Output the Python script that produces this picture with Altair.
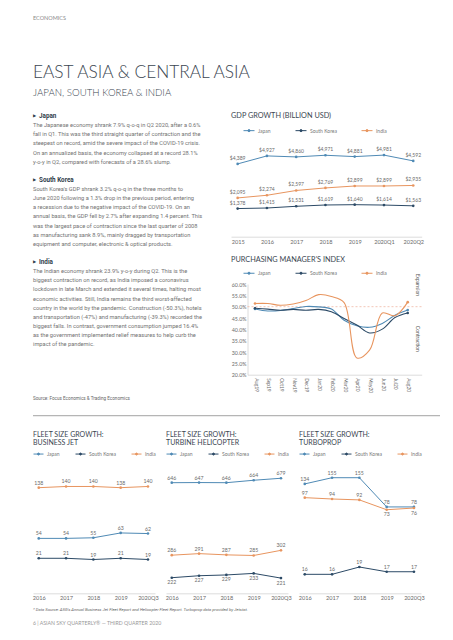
import altair as alt
import pandas as pd

# ---------------- data ----------------
series_names = ["Japan", "South Korea", "India"]
series_colors = ["#4f8ab5", "#2c4a66", "#e8955f"]

gdp_periods = ["2015", "2016", "2017", "2018", "2019", "2020Q1", "2020Q2"]
gdp_japan = [4389, 4927, 4860, 4971, 4881, 4981, 4592]
gdp_korea = [1378, 1415, 1531, 1619, 1640, 1614, 1563]
gdp_india = [2095, 2274, 2597, 2769, 2899, 2899, 2935]

pmi_months = ["Aug19", "Sep19", "Oct19", "Nov19", "Dec19", "Jan20", "Feb20",
              "Mar20", "Apr20", "May20", "Jun20", "Jul20", "Aug20"]
pmi_japan = [49.0, 48.1, 48.3, 49.2, 50.1, 49.9, 49.0, 44.0, 41.6, 40.9, 42.6, 46.2, 48.5]
pmi_korea = [49.3, 48.9, 48.4, 48.8, 48.4, 48.8, 47.8, 44.8, 41.9, 38.4, 40.1, 45.2, 47.2]
pmi_india = [51.4, 51.4, 50.6, 51.2, 52.7, 55.3, 54.5, 51.8, 27.4, 30.8, 47.2, 46.0, 52.0]

fleet_periods = ["2016", "2017", "2018", "2019", "2020Q3"]
jet_japan = [54, 54, 55, 63, 62]
jet_korea = [21, 21, 19, 21, 19]
jet_india = [138, 140, 140, 138, 140]
heli_japan = [646, 647, 646, 664, 679]
heli_korea = [222, 227, 229, 233, 221]
heli_india = [286, 291, 287, 285, 302]
tp_japan = [134, 155, 155, 78, 78]
tp_korea = [16, 16, 19, 17, 17]
tp_india = [97, 94, 92, 73, 76]

# text content
kicker = "ECONOMICS"
page_title = "EAST ASIA & CENTRAL ASIA"
page_subtitle = "JAPAN, SOUTH KOREA & INDIA"
japan_head = "Japan"
japan_body = [
    "The Japanese economy shrank 7.9% q-o-q in Q2 2020, after a 0.6%",
    "fall in Q1. This was the third straight quarter of contraction and the",
    "steepest on record, amid the severe impact of the COVID-19 crisis.",
    "On an annualized basis, the economy collapsed at a record 28.1%",
    "y-o-y in Q2, compared with forecasts of a 28.6% slump.",
]
korea_head = "South Korea"
korea_body = [
    "South Korea's GDP shrank 3.2% q-o-q in the three months to",
    "June 2020 following a 1.3% drop in the previous period, entering",
    "a recession due to the negative impact of the COVID-19. On an",
    "annual basis, the GDP fell by 2.7% after expanding 1.4 percent. This",
    "was the largest pace of contraction since the last quarter of 2008",
    "as manufacturing sank 8.9%, mainly dragged by transportation",
    "equipment and computer, electronic & optical products.",
]
india_head = "India"
india_body = [
    "The Indian economy shrank 23.9% y-o-y during Q2. This is the",
    "biggest contraction on record, as India imposed a coronavirus",
    "lockdown in late March and extended it several times, halting most",
    "economic activities. Still, India remains the third worst-affected",
    "country in the world by the pandemic. Construction (-50.3%), hotels",
    "and transportation (-47%) and manufacturing (-39.3%) recorded the",
    "biggest falls. In contrast, government consumption jumped 16.4%",
    "as the government implemented relief measures to help curb the",
    "impact of the pandemic.",
]
source_text = "Source: Focus Economics & Trading Economics"
gdp_title = "GDP GROWTH (BILLION USD)"
pmi_title = "PURCHASING MANAGER'S INDEX"
fleet_titles = ["BUSINESS JET", "TURBINE HELICOPTER", "TURBOPROP"]
footnote_text = ("* Data Source: ASG's Annual Business Jet Fleet Report and Helicopter Fleet Report. "
                 "Turboprop data provided by Jetstat.")
footer_text = "6  |  ASIAN SKY QUARTERLY\u00ae \u2014 THIRD QUARTER 2020"

# label placement (style, not data)
labels_below = {
    "jet": set(),
    "heli": {("South Korea", p) for p in fleet_periods},
    "tp": {("India", "2019"), ("India", "2020Q3")},
}

# ---------------- page geometry (canvas px, origin = page margin) ----------------
W, H = 437, 624
TITLE_COLOR = "#3b4651"
LABEL_COLOR = "#6a6a6a"
AXIS_COLOR = "#d3d3d3"
LEG_PATH = "M-1,0H1M-0.2,0A0.2,0.2 0 1,1 0.2,0A0.2,0.2 0 1,1 -0.2,0"


def cscale():
    return alt.Scale(domain=series_names, range=series_colors)


def frame(periods, values, below=frozenset()):
    rows = []
    for s, vals in zip(series_names, values):
        for i, (p, v) in enumerate(zip(periods, vals)):
            rows.append(dict(period=p, series=s, value=v, idx=i,
                             pos="below" if (s, p) in below else "above"))
    return pd.DataFrame(rows)


def make_legend(x, y, size, pad):
    return alt.Legend(orient="none", legendX=x, legendY=y, direction="horizontal",
                      title=None, symbolType=LEG_PATH, symbolSize=size,
                      symbolStrokeWidth=1, labelFont="Lato", labelFontSize=5,
                      labelColor="#777777", columnPadding=pad, labelOffset=3)


def x_axis(axis_y, angle=0, pad=2, fs=5.6):
    return alt.Axis(title=None, orient="bottom", ticks=False, grid=False,
                    domainColor=AXIS_COLOR, domainWidth=0.8, labelColor=LABEL_COLOR,
                    labelFont="Lato", labelFontSize=fs, labelPadding=pad,
                    labelAngle=angle, offset=axis_y - H, labelOverlap=False)


def note(t, x, y, fs, color, weight="normal", font="Lato", base="alphabetic",
         style="normal", line_h=None):
    kw = dict(text=t, align="left", baseline=base, font=font, fontSize=fs, color=color,
              fontWeight=weight, fontStyle=style)
    if line_h:
        kw["lineHeight"] = line_h
    return alt.Chart(alt.Data(values=[{}])).mark_text(**kw).encode(
        x=alt.value(x), y=alt.value(y))


# ---------------- header ----------------
header = alt.layer(
    note(kicker, 25, 10.3, 5.5, "#8a8a8a", base="middle"),
    note(page_title, 25, 70.3, 17.3, TITLE_COLOR, weight=300),
    note(page_subtitle, 25, 87.5, 9.7, TITLE_COLOR, weight=300),
)

# ---------------- left text column ----------------
text_rows = []
for start, head, body in [(0, japan_head, japan_body), (7, korea_head, korea_body),
                          (16, india_head, india_body)]:
    text_rows.append(dict(line=start, kind="heading", text=head))
    for k, ln in enumerate(body):
        text_rows.append(dict(line=start + 1 + k, kind="body", text=ln))
text_rows.append(dict(line=31, kind="source", text=source_text))
text_df = pd.DataFrame(text_rows)

ly = alt.Y("line:Q", scale=alt.Scale(domain=[0, 31], range=[108, 391.0], nice=False, zero=False),
           axis=None)
tbase = alt.Chart(text_df).encode(y=ly, x=alt.value(25))
left_text = alt.layer(
    tbase.transform_filter("datum.kind == 'heading'").mark_text(
        text="\u25b6", align="left", baseline="middle", font="DejaVu Sans",
        fontSize=4.2, color="#2f3d4a"),
    tbase.transform_filter("datum.kind == 'heading'").mark_text(
        align="left", baseline="middle", font="Roboto", fontSize=6.3,
        fontWeight="bold", color="#2f3d4a", dx=6).encode(text="text:N"),
    tbase.transform_filter("datum.kind == 'body'").mark_text(
        align="left", baseline="middle", font="Roboto", fontSize=5.7,
        color="#727272").encode(text="text:N"),
    tbase.transform_filter("datum.kind == 'source'").mark_text(
        align="left", baseline="middle", font="Roboto", fontSize=4.6,
        color="#666666").encode(text="text:N"),
)

# ---------------- GDP chart ----------------
gdp_df = frame(gdp_periods, [gdp_japan, gdp_korea, gdp_india])
gx = alt.X("period:N", sort=gdp_periods,
           scale=alt.Scale(type="point", range=[223, 413.7], padding=0.258, align=0.44),
           axis=x_axis(228.7, pad=2.5))
gy = alt.Y("value:Q", scale=alt.Scale(domain=[0, 6000], range=[221, 132], nice=False, zero=False),
           axis=None)
gbase = alt.Chart(gdp_df).encode(x=gx, y=gy)
gdp = alt.layer(
    gbase.mark_line(strokeWidth=1).encode(
        color=alt.Color("series:N", scale=cscale(), legend=make_legend(235, 116.2, 121, 22)),
        order="idx:Q"),
    gbase.mark_circle(size=7, opacity=1).encode(
        color=alt.Color("series:N", scale=cscale(), legend=None)),
    gbase.mark_text(baseline="bottom", dy=-3, font="Lato", fontSize=5,
                    color=LABEL_COLOR).encode(text=alt.Text("value:Q", format="$,")),
)

# ---------------- PMI chart ----------------
pmi_df = frame(pmi_months, [pmi_japan, pmi_korea, pmi_india])
px = alt.X("period:N", sort=pmi_months,
           scale=alt.Scale(type="point", range=[239.5, 413.7], padding=0.845, align=0.35),
           axis=x_axis(366.7, angle=90, pad=3, fs=4.8))
py = alt.Y("value:Q", scale=alt.Scale(domain=[20, 60], range=[366.7, 276], nice=False, zero=False),
           axis=alt.Axis(title=None, orient="left", offset=-239.5,
                         values=[20, 25, 30, 35, 40, 45, 50, 55, 60],
                         labelExpr="format(datum.value, '.1f') + '%'", ticks=False,
                         grid=False, domainColor=AXIS_COLOR, domainWidth=0.8,
                         labelColor=LABEL_COLOR, labelFont="Lato", labelFontSize=5.3,
                         labelPadding=1.5))
pbase = alt.Chart(pmi_df).encode(x=px, y=py)
zone_df = pd.DataFrame({"value": [59.6, 35.8], "t": ["Expansion", "Contraction"]})
pmi = alt.layer(
    alt.Chart(pd.DataFrame({"value": [50]})).mark_rule(
        color="#f0b9a4", strokeDash=[2, 2], strokeWidth=0.8).encode(
        y=py, x=alt.value(239.5), x2=alt.value(413.7)),
    pbase.mark_line(strokeWidth=1.1, interpolate="catmull-rom").encode(
        color=alt.Color("series:N", scale=cscale(), legend=make_legend(235, 258.8, 121, 22)),
        order="idx:Q"),
    pbase.transform_filter("datum.idx == 0 || datum.idx == 12").mark_circle(
        size=7, opacity=1).encode(color=alt.Color("series:N", scale=cscale(), legend=None)),
    alt.Chart(zone_df).mark_text(angle=90, align="center", baseline="middle", font="Lato",
                                 fontSize=5, color="#555555").encode(
        y=py, text="t:N", x=alt.value(409.7)),
)

# ---------------- fleet charts ----------------
def fleet_panel(x0, values, yscale, below):
    df = frame(fleet_periods, values, below)
    fx = alt.X("period:N", sort=fleet_periods,
               scale=alt.Scale(type="point", range=[x0, x0 + 122], padding=0.234, align=0.45),
               axis=x_axis(585.3, pad=1.8))
    fy = alt.Y("value:Q", scale=yscale, axis=None)
    b = alt.Chart(df).encode(x=fx, y=fy)
    return alt.layer(
        b.mark_line(strokeWidth=1).encode(
            color=alt.Color("series:N", scale=cscale(), legend=make_legend(x0, 440.3, 100, 13)),
            order="idx:Q"),
        b.mark_circle(size=7, opacity=1).encode(
            color=alt.Color("series:N", scale=cscale(), legend=None)),
        b.transform_filter("datum.pos == 'above'").mark_text(
            baseline="bottom", dy=-2, font="Lato", fontSize=5.2, color=LABEL_COLOR
        ).encode(text="value:Q"),
        b.transform_filter("datum.pos == 'below'").mark_text(
            baseline="top", dy=2.5, font="Lato", fontSize=5.2, color=LABEL_COLOR
        ).encode(text="value:Q"),
    )


FR = [585.3, 462]
f1 = fleet_panel(25, [jet_japan, jet_korea, jet_india],
                 alt.Scale(domain=[-37, 167.3], range=FR, nice=False, zero=False),
                 labels_below["jet"])
f2 = fleet_panel(158, [heli_japan, heli_korea, heli_india],
                 alt.Scale(type="log", domain=[186.3, 745.1], range=FR, nice=False),
                 labels_below["heli"])
f3 = fleet_panel(291, [tp_japan, tp_korea, tp_india],
                 alt.Scale(type="log", domain=[10.24, 185.8], range=FR, nice=False),
                 labels_below["tp"])

# ---------------- titles, separators, footer ----------------
decor = alt.layer(
    note([gdp_title], 223, 110.3, 7.3, TITLE_COLOR),
    note([pmi_title], 223, 254, 7.3, TITLE_COLOR),
    note(["FLEET SIZE GROWTH:", fleet_titles[0]], 25, 428.6, 7, TITLE_COLOR, line_h=8.8),
    note(["FLEET SIZE GROWTH:", fleet_titles[1]], 158, 428.6, 7, TITLE_COLOR, line_h=8.8),
    note(["FLEET SIZE GROWTH:", fleet_titles[2]], 291, 428.6, 7, TITLE_COLOR, line_h=8.8),
    alt.Chart(alt.Data(values=[{}])).mark_rule(color="#b5b5b5", strokeWidth=1.3).encode(
        x=alt.value(25), x2=alt.value(432), y=alt.value(407.7)),
    note(footnote_text, 25, 602, 4.2, "#666666", font="Roboto", base="middle", style="italic"),
    note(footer_text, 25, 615, 5.2, "#999999", base="middle"),
)

chart = alt.layer(
    header, left_text, gdp, pmi, f1, f2, f3, decor
).resolve_scale(
    x="independent", y="independent", color="independent"
).properties(
    width=W, height=H, padding=0, autosize=alt.AutoSizeParams(type="none")
).configure_view(stroke=None)

chart.save("out.html", embed_options={"renderer": "svg", "actions": False})
